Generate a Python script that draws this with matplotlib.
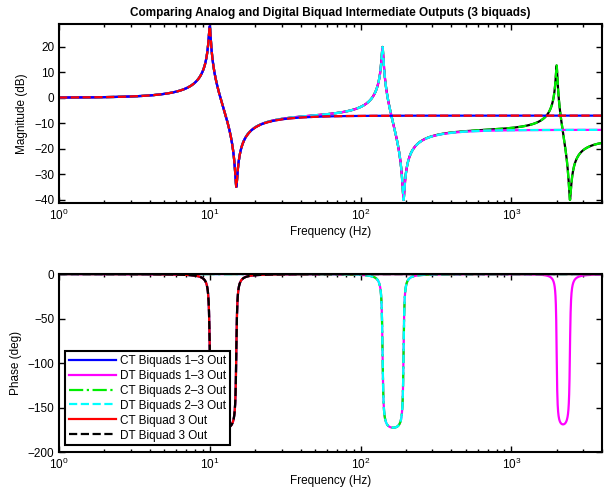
import numpy as np
import matplotlib

matplotlib.use("Agg")
import matplotlib.pyplot as plt

plt.rcParams["font.family"] = ["Liberation Sans", "DejaVu Sans"]
plt.rcParams["mathtext.fontset"] = "custom"
plt.rcParams["mathtext.rm"] = "Liberation Sans"

# biquad sections: peak / notch frequency (Hz) and their Q
PEAK_HZ = [10.0, 140.0, 2000.0]
NOTCH_HZ = [15.0, 193.0, 2450.0]
PEAK_Q = [45.0, 47.0, 55.0]
NOTCH_Q = [45.0, 50.0, 47.0]
F_MIN, F_MAX = 1.0, 4000.0

LABELS = [
    "CT Biquads 1\u20133 Out",
    "DT Biquads 1\u20133 Out",
    "CT Biquads 2\u20133 Out",
    "DT Biquads 2\u20133 Out",
    "CT Biquad 3 Out",
    "DT Biquad 3 Out",
]
COLORS = ["#0000ff", "#ff00ff", "#00ee00", "#00ffff", "#ff0000", "#000000"]
STYLES = ["-", "-", "-.", "--", "-", "--"]

MAG_TICKS = [-40, -30, -20, -10, 0, 10, 20]
PHASE_TICKS = [-200, -150, -100, -50, 0]


def section(f, fp, fz, qp, qz):
    num = fz ** 2 - f ** 2 + 1j * f * fz / qz
    den = fp ** 2 - f ** 2 + 1j * f * fp / qp
    return (fp / fz) ** 2 * num / den


def style_axes(ax):
    ax.set_xscale("log")
    ax.set_xlim(F_MIN, F_MAX)
    ax.tick_params(which="both", direction="in", top=True, right=True,
                   labelsize=8.5, width=1)
    ax.tick_params(which="major", length=4)
    ax.tick_params(which="minor", length=2.5)
    for spine in ax.spines.values():
        spine.set_linewidth(1.5)
    ax.set_xlabel("Frequency (Hz)", fontsize=8.5, labelpad=2)


f = np.logspace(np.log10(F_MIN), np.log10(F_MAX), 6000)
secs = [section(f, PEAK_HZ[k], NOTCH_HZ[k], PEAK_Q[k], NOTCH_Q[k]) for k in range(3)]

mag1 = 20 * np.log10(np.abs(secs[0]))
mag12 = 20 * np.log10(np.abs(secs[0] * secs[1]))
mag123 = 20 * np.log10(np.abs(secs[0] * secs[1] * secs[2]))
ph = [np.degrees(np.angle(s)) for s in secs]

fig = plt.figure(figsize=(6.07, 4.91), dpi=100)
ax1 = fig.add_axes([0.0972, 0.5866, 0.8946, 0.3646])
ax2 = fig.add_axes([0.0972, 0.0794, 0.8946, 0.3625])

# magnitude: full cascade drawn first so the earlier stages sit on top
lw = 1.6
ax1.plot(f, mag123, color=COLORS[5], ls="-", lw=lw)
ax1.plot(f, mag123, color=COLORS[2], ls="--", lw=lw)
ax1.plot(f, mag12, color=COLORS[1], ls="-", lw=lw)
ax1.plot(f, mag12, color=COLORS[3], ls="--", lw=lw)
ax1.plot(f, mag1, color=COLORS[0], ls="-", lw=lw)
ax1.plot(f, mag1, color=COLORS[4], ls="--", lw=lw)
style_axes(ax1)
ax1.set_ylim(-41.3, 28.9)
ax1.set_yticks(MAG_TICKS)
ax1.set_ylabel("Magnitude (dB)", fontsize=8.5, labelpad=4)
ax1.set_title("Comparing Analog and Digital Biquad Intermediate Outputs (3 biquads)",
              fontsize=8.5, fontweight="bold", pad=6)

# phase
phase_curves = [ph[0], ph[1] + ph[2], ph[1], ph[1], ph[0], ph[0]]
for y, c, s, lab in zip(phase_curves, COLORS, STYLES, LABELS):
    ax2.plot(f, y, color=c, ls=s, lw=lw, label=lab)
style_axes(ax2)
ax2.set_ylim(-200, 0)
ax2.set_yticks(PHASE_TICKS)
ax2.set_ylabel("Phase (deg)", fontsize=8.5, labelpad=4)

leg = ax2.legend(loc=(0.011, 0.039), fontsize=8.5, frameon=True, fancybox=False,
                 handlelength=4.0, handletextpad=0.4, labelspacing=0.25,
                 borderpad=0.3, borderaxespad=0)
leg.get_frame().set_edgecolor("black")
leg.get_frame().set_linewidth(1.5)
leg.get_frame().set_alpha(1)

fig.savefig("out.png", dpi=100)
